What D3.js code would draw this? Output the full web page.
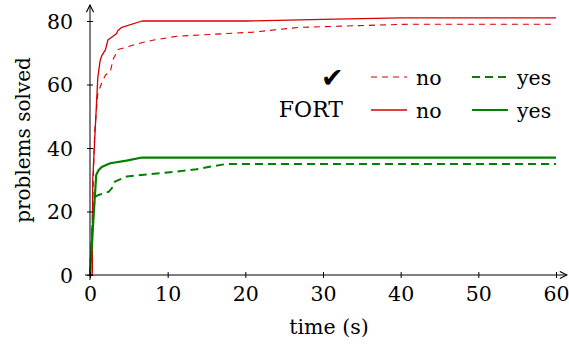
<!DOCTYPE html>
<html>
<head>
<meta charset="utf-8">
<script src="https://cdn.jsdelivr.net/npm/d3@7"></script>
<style>
  body { margin: 0; background: #fff; }
  text { font-family: "DejaVu Serif", serif; }
</style>
</head>
<body>
<div id="chart-area"></div>
<script>
// time (s) vs problems solved
const checkNo = [[0,0],[0.2,10],[0.6,45],[1.0,57],[1.5,60.5],[2.0,63],[2.6,64],[3.0,68],[3.6,71],[6.4,73],[8.2,74],[11.2,75.2],[21,76.5],[27,78],[41,79],[60,79]]
const checkYes = [[0,0],[0.3,15],[0.6,24.5],[1.1,25.2],[2.4,26.2],[2.8,27.3],[3.2,29.4],[4.7,31],[8.6,32],[12,32.8],[13.7,33.3],[15.4,34.1],[17.4,34.9],[19,35],[60,35]]
const fortNo = [[0,0],[0.3,0],[0.35,30],[1.0,62],[1.3,67.5],[1.5,69],[2.0,71],[2.3,74],[3.4,76],[3.6,77],[4.1,78],[6.7,80],[20,80],[30,80.5],[40,81],[60,81]]
const fortYes = [[0,0],[0.5,20],[0.8,31.5],[1.1,33],[1.5,34],[2.6,35.2],[4.7,36],[6.7,37],[60,37]]

const xTicks = [0, 10, 20, 30, 40, 50, 60]
const yTicks = [0, 20, 40, 60, 80]

const series = [
  {name: "checkNo", data: checkNo, color: "#d40000", width: 1.1, dash: "6,5"},
  {name: "checkYes", data: checkYes, color: "#008000", width: 2, dash: "8,5"},
  {name: "fortNo", data: fortNo, color: "#d40000", width: 1.3, dash: null},
  {name: "fortYes", data: fortYes, color: "#008000", width: 2.2, dash: null}
]

const svg = d3.select("#chart-area").append("svg")
  .attr("width", 569)
  .attr("height", 346)

const x = d3.scaleLinear().domain([0, 60]).range([90, 556])
const y = d3.scaleLinear().domain([0, 80]).range([275, 21])

// arrow head for the axes
svg.append("defs").append("marker")
  .attr("id", "arr")
  .attr("viewBox", "0 0 10 10")
  .attr("refX", 9).attr("refY", 5)
  .attr("markerWidth", 9).attr("markerHeight", 9)
  .attr("markerUnits", "userSpaceOnUse")
  .attr("orient", "auto")
  .append("path")
  .attr("d", "M1,1 L9,5 L1,9")
  .attr("fill", "none")
  .attr("stroke", "#000")
  .attr("stroke-width", 1.2)

// lines
const line = d3.line().x(d => x(d[0])).y(d => y(d[1]))
svg.selectAll("path.series")
  .data(series)
  .enter().append("path")
  .attr("class", "series")
  .attr("d", d => line(d.data))
  .attr("fill", "none")
  .attr("stroke", d => d.color)
  .attr("stroke-width", d => d.width)
  .attr("stroke-dasharray", d => d.dash)
  .attr("stroke-linejoin", "round")

// axes
const xAxis = svg.append("g")
  .attr("transform", "translate(0,275)")
  .call(d3.axisBottom(x).tickValues(xTicks).tickSize(3).tickSizeOuter(0).tickPadding(8))
const yAxis = svg.append("g")
  .attr("transform", "translate(90,0)")
  .call(d3.axisLeft(y).tickValues(yTicks).tickSize(3).tickSizeOuter(0).tickPadding(14))

xAxis.select(".domain").remove()
yAxis.select(".domain").remove()
xAxis.selectAll(".tick line").attr("y1", -3).attr("y2", 3)
yAxis.selectAll(".tick line").attr("x1", 3).attr("x2", -3)
xAxis.selectAll(".tick text").attr("font-size", 20.5).attr("font-family", "DejaVu Serif")
yAxis.selectAll(".tick text").attr("font-size", 20.5).attr("font-family", "DejaVu Serif")
  .attr("dy", "0.36em")

svg.append("line")
  .attr("x1", 85).attr("y1", 275).attr("x2", 567).attr("y2", 275)
  .attr("stroke", "#000").attr("stroke-width", 1)
  .attr("marker-end", "url(#arr)")
svg.append("line")
  .attr("x1", 90).attr("y1", 280).attr("x2", 90).attr("y2", 5)
  .attr("stroke", "#000").attr("stroke-width", 1)
  .attr("marker-end", "url(#arr)")

// axis titles
svg.append("text")
  .attr("x", 329).attr("y", 334)
  .attr("text-anchor", "middle")
  .attr("font-size", 20.5)
  .text("time (s)")
svg.append("text")
  .attr("transform", "translate(30,140) rotate(-90)")
  .attr("text-anchor", "middle")
  .attr("font-size", 20)
  .text("problems solved")

// legend
const legend = svg.append("g")
legend.append("text")
  .attr("x", 344).attr("y", 87)
  .attr("text-anchor", "end")
  .attr("font-family", "DejaVu Sans")
  .attr("font-size", 27)
  .text("\u2714")
legend.append("text")
  .attr("x", 343).attr("y", 117)
  .attr("text-anchor", "end")
  .attr("font-family", "DejaVu Sans")
  .attr("font-size", 22)
  .text("FORT")

const legendRows = [
  {s: series[0], lx: 371, ty: 77, label: "no"},
  {s: series[1], lx: 472, ty: 77, label: "yes"},
  {s: series[2], lx: 371, ty: 110, label: "no"},
  {s: series[3], lx: 472, ty: 110, label: "yes"}
]
legendRows.forEach(r => {
  legend.append("line")
    .attr("x1", r.lx).attr("x2", r.lx + 36)
    .attr("y1", r.ty).attr("y2", r.ty)
    .attr("stroke", r.s.color)
    .attr("stroke-width", r.s.width)
    .attr("stroke-dasharray", r.s.dash)
  legend.append("text")
    .attr("x", r.lx + 45).attr("y", r.ty + 8)
    .attr("font-size", 20.5)
    .text(r.label)
})
</script>
</body>
</html>
